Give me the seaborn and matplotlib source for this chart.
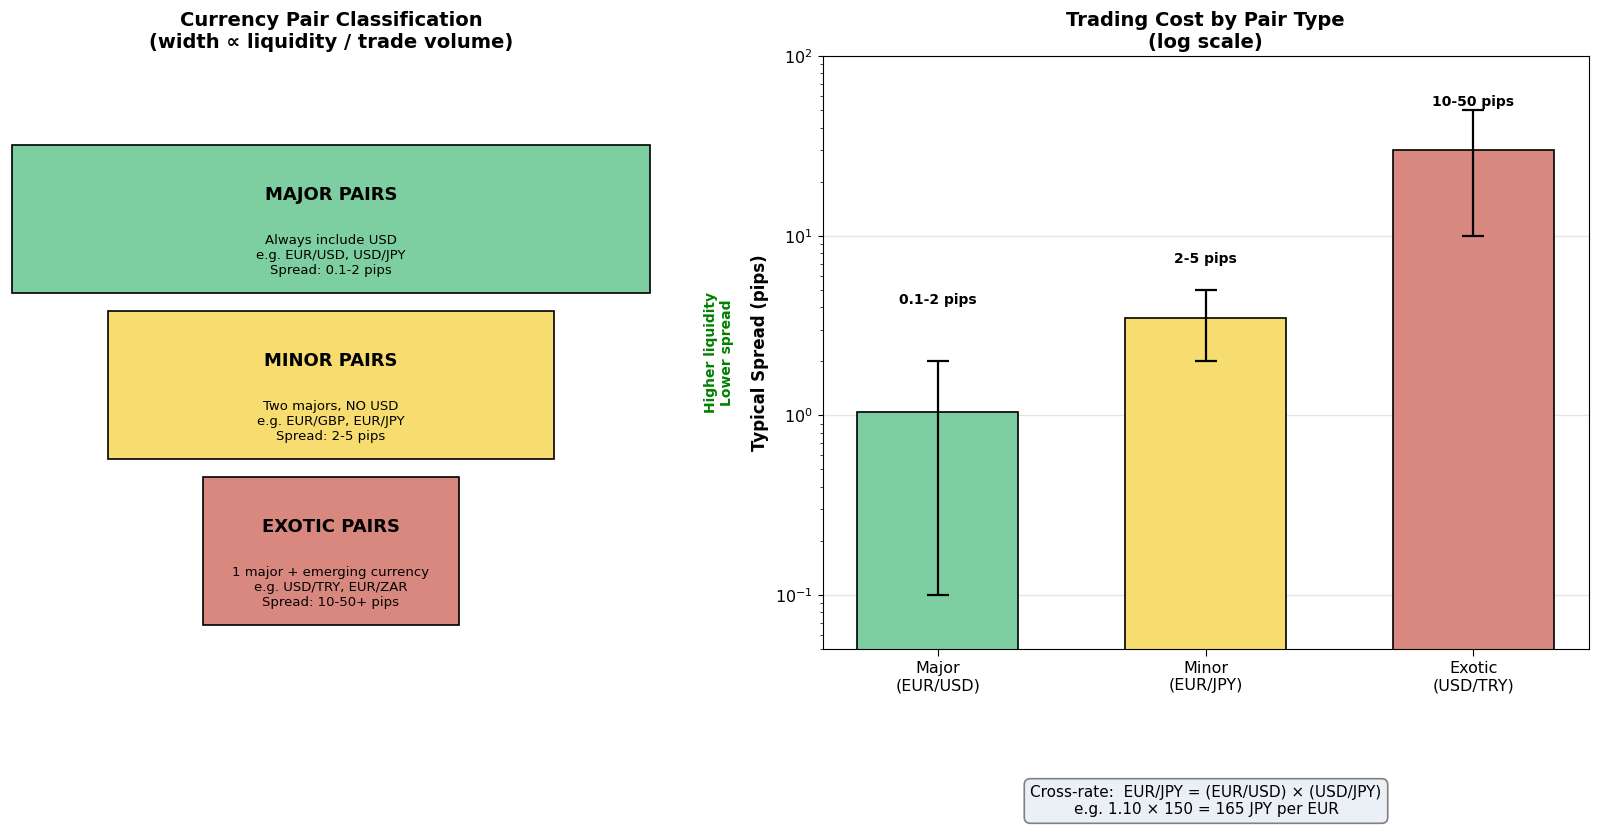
import matplotlib
matplotlib.use("Agg")
import numpy as np
import pandas as pd
import seaborn as sns
import matplotlib.pyplot as plt
from matplotlib.patches import Rectangle


# 데이터
pair_types = ["MAJOR PAIRS", "MINOR PAIRS", "EXOTIC PAIRS"]
pair_desc = [
    "Always include USD\ne.g. EUR/USD, USD/JPY\nSpread: 0.1-2 pips",
    "Two majors, NO USD\ne.g. EUR/GBP, EUR/JPY\nSpread: 2-5 pips",
    "1 major + emerging currency\ne.g. USD/TRY, EUR/ZAR\nSpread: 10-50+ pips",
]
liquidity_width = [1.0, 0.7, 0.4]

categories = ["Major\n(EUR/USD)", "Minor\n(EUR/JPY)", "Exotic\n(USD/TRY)"]
spread_low = [0.1, 2, 10]
spread_high = [2, 5, 50]
spread_typical = [1.05, 3.5, 30]
spread_labels = ["0.1-2 pips", "2-5 pips", "10-50 pips"]

colors = ["#7DCEA0", "#F7DC6F", "#D98880"]


sns.set_style("ticks")
plt.rcParams["font.family"] = ["DejaVu Sans"]
plt.rcParams["text.color"] = "black"
plt.rcParams["axes.labelcolor"] = "black"

fig = plt.figure(figsize=(16, 8.3), dpi=100)

# ==================================================
# 왼쪽: 통화쌍 분류 (피라미드)
# ==================================================
ax1 = fig.add_axes([12 / 1600, 0.218, 638 / 1600, 0.7145])
ax1.set_xlim(-0.5, 0.5)
ax1.set_ylim(0, 10)
ax1.axis("off")

box_h = 2.5
gap = 0.3
for i, (name, desc, w, c) in enumerate(zip(pair_types, pair_desc, liquidity_width, colors)):
    y0 = 6.0 - i * (box_h + gap)
    ax1.add_patch(Rectangle((-w / 2, y0), w, box_h, facecolor=c,
                            edgecolor="black", linewidth=1.2, clip_on=False))
    ax1.text(0, y0 + 1.66, name, ha="center", va="center",
             fontsize=13, fontweight="bold")
    ax1.text(0, y0 + 0.63, desc, ha="center", va="center", fontsize=9.5)

ax1.set_title("Currency Pair Classification\n(width ∝ liquidity / trade volume)",
              fontsize=14, fontweight="bold", pad=6)

# ==================================================
# 오른쪽: 스프레드 비교 (로그 스케일)
# ==================================================
ax2 = fig.add_axes([822.5 / 1600, 0.218, 766 / 1600, 0.7145])
ax2.set_yscale("log")

df = pd.DataFrame({"pair": categories, "spread": spread_typical})
sns.barplot(data=df, x="pair", y="spread", hue="pair", palette=colors,
            width=0.6, saturation=1, edgecolor="black", linewidth=1.2,
            legend=False, errorbar=None, ax=ax2)

xs = np.arange(len(categories))
typ = np.array(spread_typical)
yerr = [typ - np.array(spread_low), np.array(spread_high) - typ]
ax2.errorbar(xs, typ, yerr=yerr, fmt="none", ecolor="black",
             elinewidth=1.6, capsize=8, capthick=1.6, zorder=5)

label_y = [4.0, 6.8, 51]
for x, y, lab in zip(xs, label_y, spread_labels):
    ax2.text(x, y, lab, ha="center", va="bottom", fontsize=10, fontweight="bold")

ax2.set_ylim(0.05, 100)
ax2.grid(axis="y", which="major", color="#cccccc", alpha=0.5, linewidth=1)
ax2.set_xlabel("")
ax2.set_ylabel("Typical Spread (pips)", fontsize=12, fontweight="bold")
ax2.tick_params(axis="both", labelsize=11.5, colors="black")
ax2.tick_params(axis="x", length=5)
for s in ax2.spines.values():
    s.set_color("black")
    s.set_visible(True)

ax2.text(-0.1346, 0.5, "Higher liquidity\nLower spread", transform=ax2.transAxes,
         rotation=90, ha="center", va="center", color="green",
         fontsize=10, fontweight="bold")

ax2.set_title("Trading Cost by Pair Type\n(log scale)",
              fontsize=14, fontweight="bold", pad=6)

fig.text(1206 / 1600, 1 - 801 / 830,
         "Cross-rate:  EUR/JPY = (EUR/USD) × (USD/JPY)\ne.g. 1.10 × 150 = 165 JPY per EUR",
         ha="center", va="center", fontsize=11,
         bbox=dict(boxstyle="round,pad=0.4", facecolor="#eaf0f6",
                   edgecolor="gray", linewidth=1.2))

plt.savefig("out.png", dpi=100)
plt.close()
